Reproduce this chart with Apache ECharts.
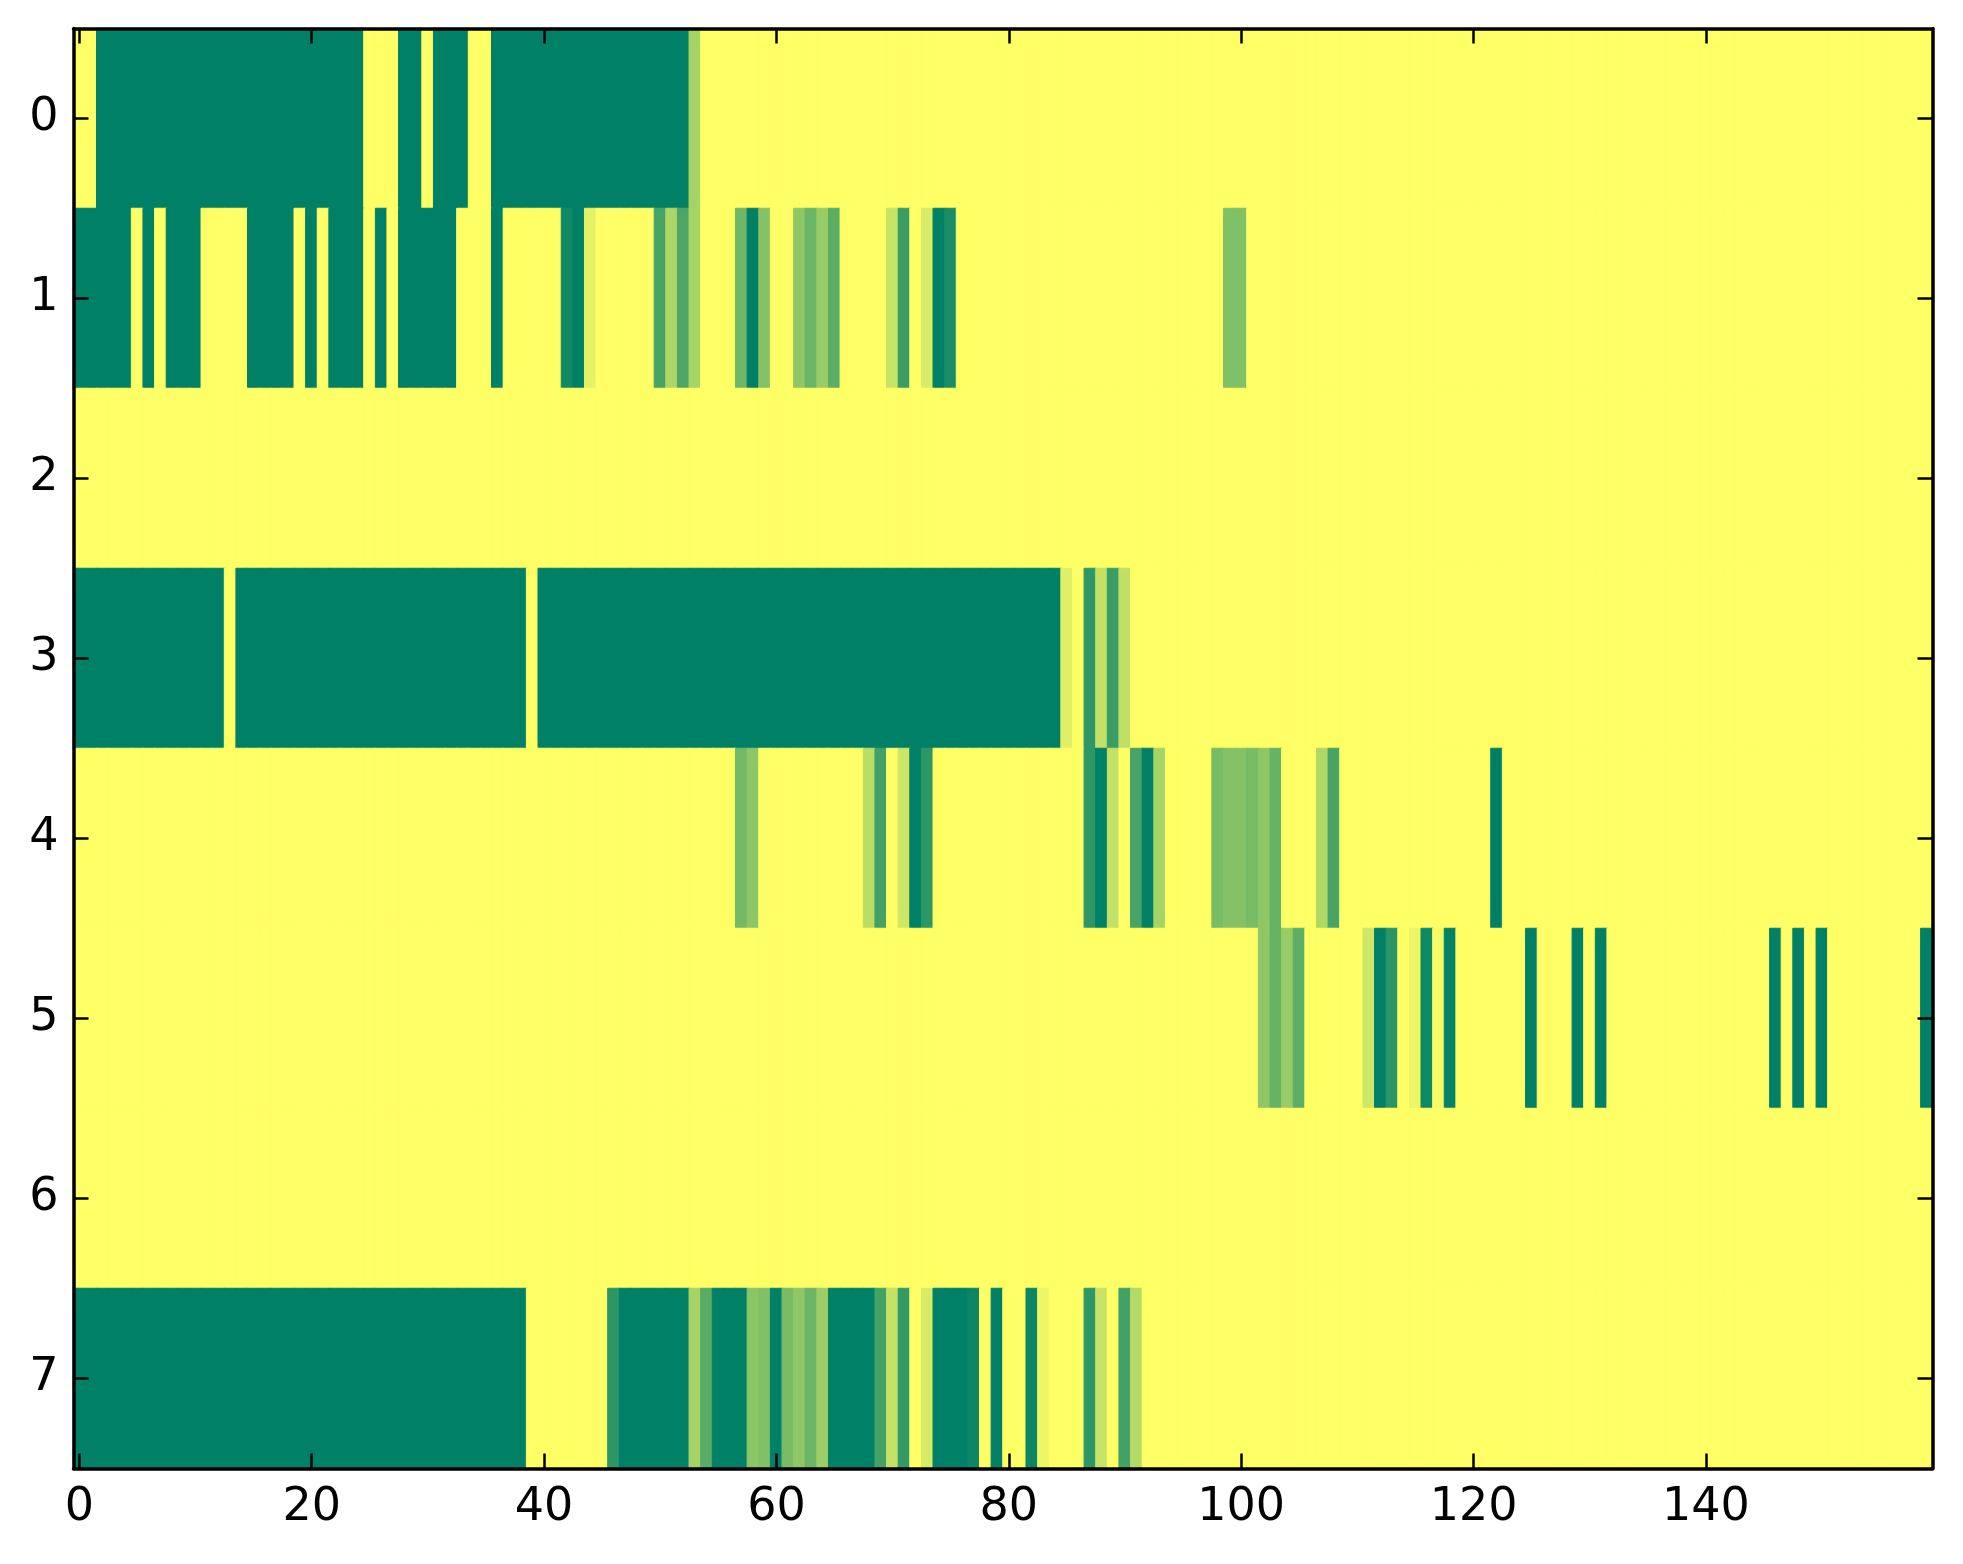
<!DOCTYPE html>
<html>
<head>
<meta charset="utf-8">
<script src="https://cdn.jsdelivr.net/npm/echarts@6/dist/echarts.min.js"></script>
<style>
html,body{margin:0;padding:0;background:#fff;}
#chart{width:1963px;height:1564px;}
</style>
</head>
<body>
<div id="chart"></div>
<script>
// Row values (0 = yellow, 1 = green), 160 columns each
var row0 = [
0,0,1,1,1,1,1,1,1,1,1,1,1,1,1,1,1,1,1,1,
1,1,1,1,1,0,0,0,1,1,0,1,1,1,0,0,1,1,1,1,
1,1,1,1,1,1,1,1,1,1,1,1,1,0.35,0,0,0,0,0,0,
0,0,0,0,0,0,0,0,0,0,0,0,0,0,0,0,0,0,0,0,
0,0,0,0,0,0,0,0,0,0,0,0,0,0,0,0,0,0,0,0,
0,0,0,0,0,0,0,0,0,0,0,0,0,0,0,0,0,0,0,0,
0,0,0,0,0,0,0,0,0,0,0,0,0,0,0,0,0,0,0,0,
0,0,0,0,0,0,0,0,0,0,0,0,0,0,0,0,0,0,0,0
];
var row1 = [
1,1,1,1,1,0,1,0,1,1,1,0,0,0,0,1,1,1,1,0,
1,0,1,1,1,0,1,0,1,1,1,1,1,0,0,0,1,0,0,0,
0,0,0.93,1,0.1,0,0,0,0,0,0.72,0.32,0.7,0.34,0,0,0,0.57,1,0.48,
0,0,0.44,0.58,0.4,0.64,0,0,0,0,0.22,0.77,0,0.15,1,0.9,0,0,0,0,
0,0,0,0,0,0,0,0,0,0,0,0,0,0,0,0,0,0,0,0.5,
0.5,0,0,0,0,0,0,0,0,0,0,0,0,0,0,0,0,0,0,0,
0,0,0,0,0,0,0,0,0,0,0,0,0,0,0,0,0,0,0,0,
0,0,0,0,0,0,0,0,0,0,0,0,0,0,0,0,0,0,0,0
];
var row2 = [
0,0,0,0,0,0,0,0,0,0,0,0,0,0,0,0,0,0,0,0,
0,0,0,0,0,0,0,0,0,0,0,0,0,0,0,0,0,0,0,0,
0,0,0,0,0,0,0,0,0,0,0,0,0,0,0,0,0,0,0,0,
0,0,0,0,0,0,0,0,0,0,0,0,0,0,0,0,0,0,0,0,
0,0,0,0,0,0,0,0,0,0,0,0,0,0,0,0,0,0,0,0,
0,0,0,0,0,0,0,0,0,0,0,0,0,0,0,0,0,0,0,0,
0,0,0,0,0,0,0,0,0,0,0,0,0,0,0,0,0,0,0,0,
0,0,0,0,0,0,0,0,0,0,0,0,0,0,0,0,0,0,0,0
];
var row3 = [
1,1,1,1,1,1,1,1,1,1,1,1,1,0,1,1,1,1,1,1,
1,1,1,1,1,1,1,1,1,1,1,1,1,1,1,1,1,1,1,0,
1,1,1,1,1,1,1,1,1,1,1,1,1,1,1,1,1,1,1,1,
1,1,1,1,1,1,1,1,1,1,1,1,1,1,1,1,1,1,1,1,
1,1,1,1,1,0.12,0,0.82,0.24,0.77,0.25,0,0,0,0,0,0,0,0,0,
0,0,0,0,0,0,0,0,0,0,0,0,0,0,0,0,0,0,0,0,
0,0,0,0,0,0,0,0,0,0,0,0,0,0,0,0,0,0,0,0,
0,0,0,0,0,0,0,0,0,0,0,0,0,0,0,0,0,0,0,0
];
var row4 = [
0,0,0,0,0,0,0,0,0,0,0,0,0,0,0,0,0,0,0,0,
0,0,0,0,0,0,0,0,0,0,0,0,0,0,0,0,0,0,0,0,
0,0,0,0,0,0,0,0,0,0,0,0,0,0,0,0,0,0.55,0.45,0,
0,0,0,0,0,0,0,0,0.27,0.74,0,0.2,1,0.83,0,0,0,0,0,0,
0,0,0,0,0,0,0,0.82,1,0.24,0,0.72,1,0.35,0,0,0,0,0.53,0.48,
0.48,0.53,0.44,0.6,0,0,0,0.31,0.72,0,0,0,0,0,0,0,0,0,0,0,
0,0,1,0,0,0,0,0,0,0,0,0,0,0,0,0,0,0,0,0,
0,0,0,0,0,0,0,0,0,0,0,0,0,0,0,0,0,0,0,0
];
var row5 = [
0,0,0,0,0,0,0,0,0,0,0,0,0,0,0,0,0,0,0,0,
0,0,0,0,0,0,0,0,0,0,0,0,0,0,0,0,0,0,0,0,
0,0,0,0,0,0,0,0,0,0,0,0,0,0,0,0,0,0,0,0,
0,0,0,0,0,0,0,0,0,0,0,0,0,0,0,0,0,0,0,0,
0,0,0,0,0,0,0,0,0,0,0,0,0,0,0,0,0,0,0,0,
0,0,0.44,0.6,0.4,0.64,0,0,0,0,0,0.19,1,0.84,0,0.08,0.94,0.04,0.98,0,
0,0,0,0,0,1,0,0,0,1,0,1,0,0,0,0,0,0,0,0,
0,0,0,0,0,0,1,0,1,0,1,0,0,0,0,0,0,0,0,1
];
var row6 = [
0,0,0,0,0,0,0,0,0,0,0,0,0,0,0,0,0,0,0,0,
0,0,0,0,0,0,0,0,0,0,0,0,0,0,0,0,0,0,0,0,
0,0,0,0,0,0,0,0,0,0,0,0,0,0,0,0,0,0,0,0,
0,0,0,0,0,0,0,0,0,0,0,0,0,0,0,0,0,0,0,0,
0,0,0,0,0,0,0,0,0,0,0,0,0,0,0,0,0,0,0,0,
0,0,0,0,0,0,0,0,0,0,0,0,0,0,0,0,0,0,0,0,
0,0,0,0,0,0,0,0,0,0,0,0,0,0,0,0,0,0,0,0,
0,0,0,0,0,0,0,0,0,0,0,0,0,0,0,0,0,0,0,0
];
var row7 = [
1,1,1,1,1,1,1,1,1,1,1,1,1,1,1,1,1,1,1,1,
1,1,1,1,1,1,1,1,1,1,1,1,1,1,1,1,1,1,1,0,
0,0,0,0,0,0,0.83,1,1,1,1,1,1,0.35,0.65,1,1,1,0.46,0.5,
1,0.53,0.44,0.58,0.39,1,1,1,1,0.73,0.23,0.8,0,0.16,1,1,1,0.95,0,1,
0,0,0.95,0.07,0,0,0,0.82,0.22,0,0.74,0.3,0,0,0,0,0,0,0,0,
0,0,0,0,0,0,0,0,0,0,0,0,0,0,0,0,0,0,0,0,
0,0,0,0,0,0,0,0,0,0,0,0,0,0,0,0,0,0,0,0,
0,0,0,0,0,0,0,0,0,0,0,0,0,0,0,0,0,0,0,0
];
var rows = [row0,row1,row2,row3,row4,row5,row6,row7];
var rowLabels = ['0','1','2','3','4','5','6','7'];
var xTickStep = 20;
var colorRange = ['#ffff66', '#008066'];

var colLabels = [];
for (var i = 0; i < row0.length; i++) colLabels.push(String(i));

var cells = [];
rows.forEach(function (r, y) {
  r.forEach(function (v, x) {
    var c = echarts.color.lerp(v, colorRange);
    cells.push({ value: [x, y, v], itemStyle: { color: c, borderColor: c, borderWidth: 1 } });
  });
});

var font = 'DejaVu Sans';
function xShow(idx) { return idx % xTickStep === 0; }
var lineStyle = { color: '#000', width: 3.5 };
var tickStyle = { color: '#000', width: 2.5 };

var chart = echarts.init(document.getElementById('chart'), null, { renderer: 'canvas' });
chart.setOption({
  animation: false,
  backgroundColor: '#fff',
  grid: { left: 73.5, top: 28.5, width: 1859, height: 1440, containLabel: false },
  xAxis: [{
    type: 'category', data: colLabels, position: 'bottom', z: 10,
    axisLine: { show: true, lineStyle: lineStyle },
    axisTick: { show: true, inside: true, length: 15, alignWithLabel: true, interval: xShow, lineStyle: tickStyle },
    axisLabel: { show: true, interval: xShow, margin: 17, fontFamily: font, fontSize: 46, color: '#000' },
    splitLine: { show: false }
  }, {
    type: 'category', data: colLabels, position: 'top', z: 10,
    axisLine: { show: true, lineStyle: lineStyle },
    axisTick: { show: true, inside: true, length: 15, alignWithLabel: true, interval: xShow, lineStyle: tickStyle },
    axisLabel: { show: false },
    splitLine: { show: false }
  }],
  yAxis: [{
    type: 'category', data: rowLabels, inverse: true, position: 'left', z: 10,
    axisLine: { show: true, lineStyle: lineStyle },
    axisTick: { show: true, inside: true, length: 15, alignWithLabel: true, interval: 0, lineStyle: tickStyle },
    axisLabel: { show: true, interval: 0, margin: 15, fontFamily: font, fontSize: 46, color: '#000' },
    splitLine: { show: false }
  }, {
    type: 'category', data: rowLabels, inverse: true, position: 'right', z: 10,
    axisLine: { show: true, lineStyle: lineStyle },
    axisTick: { show: true, inside: true, length: 15, alignWithLabel: true, interval: 0, lineStyle: tickStyle },
    axisLabel: { show: false },
    splitLine: { show: false }
  }],
  series: [{
    type: 'heatmap', xAxisIndex: 0, yAxisIndex: 0, data: cells,
    emphasis: { disabled: true }, silent: true, progressive: 0
  }]
});
</script>
</body>
</html>
